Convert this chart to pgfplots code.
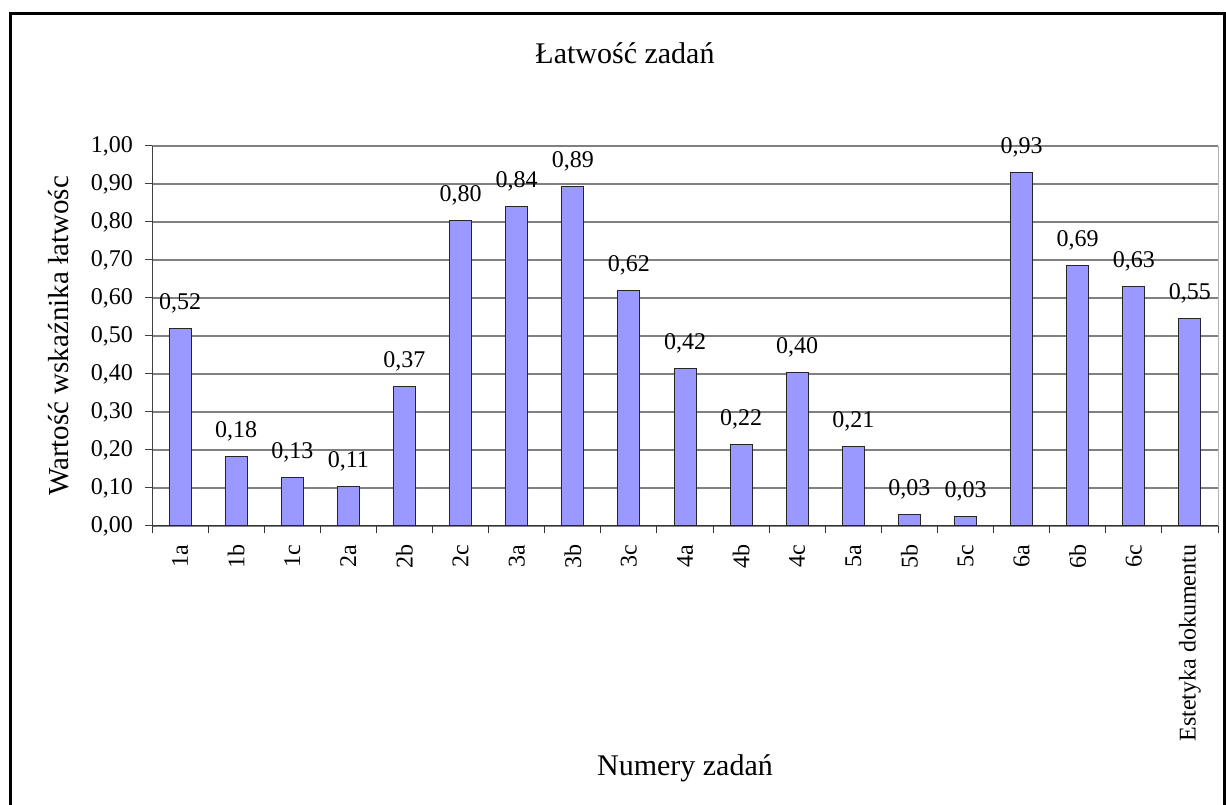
\documentclass[border=0pt]{standalone}
\usepackage{fontspec}
\setmainfont{Liberation Serif}
\usepackage{pgfplots}
\pgfplotsset{compat=1.18}
\usepackage{pgfplotstable}
\definecolor{barfill}{HTML}{9999FF}
\definecolor{gridc}{HTML}{808080}
\pgfplotstableread{
x y label
0 0.520 0,52
1 0.184 0,18
2 0.128 0,13
3 0.105 0,11
4 0.368 0,37
5 0.805 0,80
6 0.842 0,84
7 0.893 0,89
8 0.620 0,62
9 0.415 0,42
10 0.215 0,22
11 0.405 0,40
12 0.210 0,21
13 0.030 0,03
14 0.026 0,03
15 0.930 0,93
16 0.685 0,69
17 0.630 0,63
18 0.546 0,55
}\datatable
\begin{document}
\begin{tikzpicture}
\useasboundingbox (0pt,0pt) rectangle (1226pt,805pt);
\draw[line width=3pt] (10pt,-10pt) -- (10pt,791.5pt) -- (1224.5pt,791.5pt) -- (1224.5pt,-10pt);
\begin{axis}[
  at={(152pt,279pt)}, anchor=south west,
  scale only axis, width=1066pt, height=380pt,
  xmin=-0.5, xmax=18.5, ymin=0, ymax=1,
  axis x line*=bottom, axis y line*=left,
  x axis line style={black!80, line width=1pt},
  y axis line style={black!75, line width=1pt},
  xtick={0,...,18},
  xticklabels={1a,1b,1c,2a,2b,2c,3a,3b,3c,4a,4b,4c,5a,5b,5c,6a,6b,6c,Estetyka dokumentu},
  minor xtick={-0.5,0.5,...,18.5},
  major x tick style={draw=none},
  minor x tick style={black!80, line width=1pt},
  minor tick length=7pt,
  ytick={0,0.1,0.2,0.3,0.4,0.5,0.6,0.7,0.8,0.9,1.0},
  major tick length=7pt,
  y tick style={black!75, line width=1pt},
  tick align=outside,
  ymajorgrids,
  grid style={gridc, line width=1.2pt},
  y tick label style={/pgf/number format/fixed, /pgf/number format/fixed zerofill, /pgf/number format/precision=2, /pgf/number format/use comma, /pgf/number format/assume math mode=true},
  yticklabel style={font=\fontsize{24}{28}\selectfont, anchor=east, inner sep=0pt, outer xsep=12pt},
  xticklabel style={font=\fontsize{24}{28}\selectfont, rotate=90, anchor=east, inner sep=0pt, outer xsep=12pt},
  title={Łatwość zadań},
  title style={font=\fontsize{30}{36}\selectfont, at={(axis description cs:0.4437,1.2)}, anchor=base, inner sep=0pt},
  xlabel={Numery zadań},
  xlabel style={font=\fontsize{30}{36}\selectfont, at={(axis description cs:0.5,-0.6553)}, anchor=base, inner sep=0pt},
  ylabel={Wartość wskaźnika łatwośc},
  ylabel style={font=\fontsize{29}{34}\selectfont, at={(axis description cs:-0.0788,0.5)}, anchor=base, inner sep=0pt},
  clip=false,
]
\draw[black!30, line width=1pt] (rel axis cs:1,0) -- (rel axis cs:1,1);
\addplot[ybar, bar width=22pt, bar shift=0pt, fill=barfill, draw=black!85, line width=1pt,
  point meta=explicit symbolic,
  nodes near coords,
  every node near coord/.append style={font=\fontsize{24}{28}\selectfont, anchor=base, yshift=19pt, inner sep=0pt, black}]
  table[x=x, y=y, meta=label] {\datatable};
\end{axis}
\end{tikzpicture}
\end{document}
